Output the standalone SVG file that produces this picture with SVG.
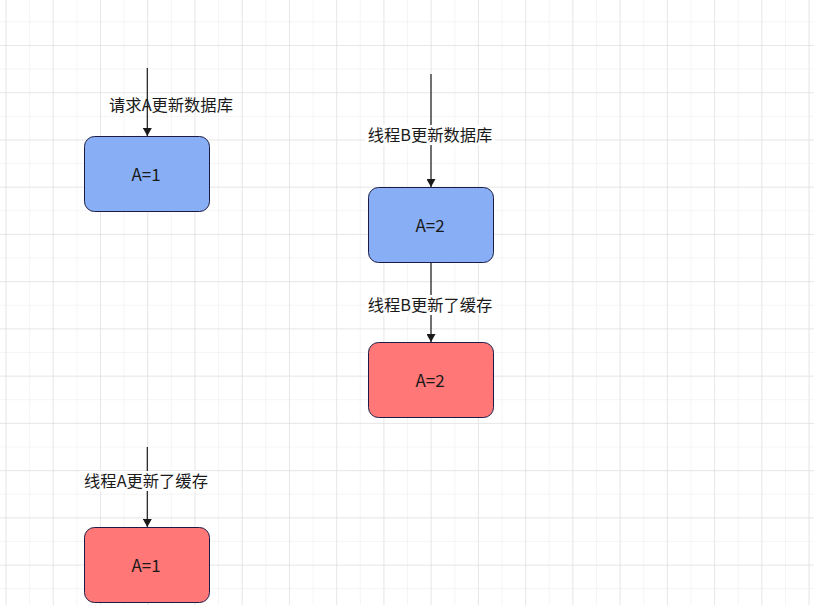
<svg xmlns="http://www.w3.org/2000/svg" width="814" height="605" viewBox="0 0 814 605">
<defs>
<pattern id="minor" x="5.5" y="21.3" width="23.62" height="23.62" patternUnits="userSpaceOnUse">
<path d="M0 0H23.62M0 0V23.62" fill="none" stroke="#ececec" stroke-width="1"/>
</pattern>
<pattern id="major" x="5.5" y="45" width="47.24" height="47.24" patternUnits="userSpaceOnUse">
<path d="M0 0H47.24M0 0V47.24" fill="none" stroke="#dadada" stroke-width="1"/>
</pattern>
<marker id="arrow" viewBox="0 0 8 9" refX="8" refY="4.5" markerWidth="8" markerHeight="9" orient="auto" markerUnits="userSpaceOnUse">
<path d="M0 0L8 4.5L0 9Z" fill="#1a1a1a"/>
</marker>
</defs>
<style>
.node{stroke:#1b1b45;stroke-width:1}
.blue{fill:#88aff5}
.red{fill:#ff7777}
.t{font-family:"Noto Sans CJK SC","Liberation Sans",sans-serif;font-size:17px;fill:#1a1a1a;text-anchor:middle;dominant-baseline:central}
.lbl{font-family:"Noto Sans CJK SC","Liberation Sans",sans-serif;font-size:16.3px;fill:#1a1a1a;text-anchor:middle;dominant-baseline:central}
.edge{stroke:#1a1a1a;stroke-width:1.2;fill:none;marker-end:url(#arrow)}
</style>
<rect width="814" height="605" fill="#ffffff"/>
<rect width="814" height="605" fill="url(#minor)"/>
<rect width="814" height="605" fill="url(#major)"/>
<g id="connectors">
<path class="edge" d="M147.3 68V136"/>
<text class="lbl" x="171" y="104">请求A更新数据库</text>
<path class="edge" d="M431 74V187"/>
<rect x="365" y="125" width="130" height="20" fill="#ffffff"/>
<text class="lbl" x="430" y="134">线程B更新数据库</text>
<path class="edge" d="M431 262.5V342"/>
<rect x="365" y="295" width="130" height="20" fill="#ffffff"/>
<text class="lbl" x="430" y="304">线程B更新了缓存</text>
<path class="edge" d="M147.3 447V527"/>
<rect x="81" y="471" width="130" height="20" fill="#ffffff"/>
<text class="lbl" x="146" y="480">线程A更新了缓存</text>
</g>
<g id="node1">
<rect class="node blue" x="84.5" y="136.5" width="125" height="75" rx="10"/>
<text class="t" x="146" y="173">A=1</text>
</g>
<g id="node2">
<rect class="node blue" x="368.5" y="187.5" width="125" height="75" rx="10"/>
<text class="t" x="430" y="224">A=2</text>
</g>
<g id="node3">
<rect class="node red" x="368.5" y="342.5" width="125" height="75" rx="10"/>
<text class="t" x="430" y="379">A=2</text>
</g>
<g id="node4">
<rect class="node red" x="84.5" y="527.5" width="125" height="75" rx="10"/>
<text class="t" x="146" y="564">A=1</text>
</g>
</svg>
